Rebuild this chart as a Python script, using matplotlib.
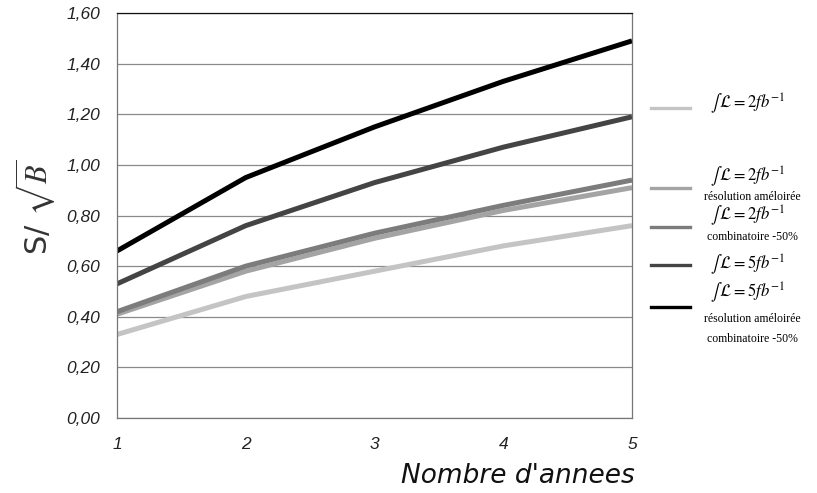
import matplotlib.pyplot as plt
from matplotlib.lines import Line2D
from matplotlib.ticker import FuncFormatter

plt.rcParams['mathtext.fontset'] = 'stix'

annees = [1, 2, 3, 4, 5]
lum2 = [0.33, 0.48, 0.58, 0.68, 0.76]
lum2_resol = [0.41, 0.58, 0.71, 0.82, 0.91]
lum2_comb = [0.42, 0.60, 0.73, 0.84, 0.94]
lum5 = [0.53, 0.76, 0.93, 1.07, 1.19]
lum5_resol_comb = [0.66, 0.95, 1.15, 1.33, 1.49]

series = [lum2, lum2_resol, lum2_comb, lum5, lum5_resol_comb]
couleurs = ["#c4c4c4", "#a4a4a4", "#7c7c7c", "#444444", "#000000"]
titres = [r"$\int\,\mathcal{L} = 2fb^{-1}$", r"$\int\,\mathcal{L} = 2fb^{-1}$",
          r"$\int\,\mathcal{L} = 2fb^{-1}$", r"$\int\,\mathcal{L} = 5fb^{-1}$",
          r"$\int\,\mathcal{L} = 5fb^{-1}$"]
sous_titres = ["", "résolution améloirée", "combinatoire -50%", "",
               "résolution améloirée\ncombinatoire -50%"]

fig = plt.figure(figsize=(8.17, 4.93), dpi=100)
ax = fig.add_axes([0.1432, 0.1521, 0.6304, 0.8215])

for s, c in zip(series, couleurs):
    ax.plot(annees, s, color=c, lw=3.6, solid_capstyle='butt')

ax.set_xlim(1, 5)
ax.set_ylim(0, 1.6)
ax.set_xticks(annees)
ax.set_yticks([0.2 * i for i in range(9)])
ax.yaxis.set_major_formatter(FuncFormatter(lambda v, p: f"{v:.2f}".replace(".", ",")))
ax.grid(True, axis='y', color="#8a8a8a", lw=0.9)
ax.set_axisbelow(True)
ax.tick_params(length=0, labelsize=12.5, colors="#222222")
ax.tick_params(axis='x', pad=14)
ax.tick_params(axis='y', pad=12)
for lab in ax.get_xticklabels() + ax.get_yticklabels():
    lab.set_fontstyle('italic')
    lab.set_family('Liberation Sans')
for sp in ax.spines.values():
    sp.set_color("#777777")
    sp.set_linewidth(0.9)
ax.spines['top'].set_color("#111111")

fig.text(0.043, 0.58, r"S/ $\sqrt{B}$", rotation=90, ha='center', va='center',
         fontsize=22, family='DejaVu Sans', color="#333333")
fig.text(0.777, 1 - 476 / 493, "Nombre d'annees", ha='right', va='center',
         fontsize=19, style='italic', family='DejaVu Sans', color="#111111")

# legende dessinee a la main
ligne_y = [108, 188, 227, 265, 307]
titre_y = [104, 177, 216, 265, 293]
sous_y = [0, 197, 237, 0, 329]
W, H = 817, 493
for c, t, st, ly, ty, sy in zip(couleurs, titres, sous_titres, ligne_y, titre_y, sous_y):
    fig.add_artist(Line2D([651 / W, 690 / W], [1 - ly / H, 1 - ly / H], color=c, lw=2.4))
    fig.text(748 / W, 1 - ty / H, t, ha='center', va='center', fontsize=12)
    if st:
        fig.text(752 / W, 1 - sy / H, st, ha='center', va='center', fontsize=8.5,
                 family='Liberation Serif', linespacing=1.9)

fig.savefig("out.png", dpi=100)
